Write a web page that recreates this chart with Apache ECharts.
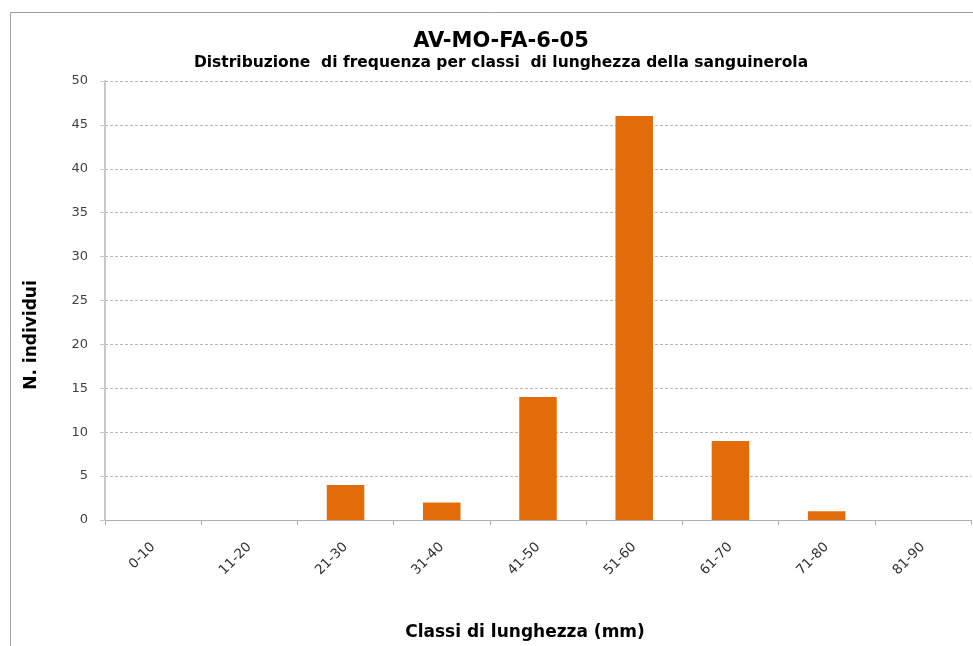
<!DOCTYPE html>
<html>
<head>
<meta charset="utf-8">
<script src="https://cdn.jsdelivr.net/npm/echarts@6/dist/echarts.min.js"></script>
<style>
  html, body { margin: 0; padding: 0; background: #fff; }
  #main { width: 973px; height: 646px; }
</style>
</head>
<body>
<div id="main"></div>
<script>
// classi di lunghezza e numero di individui
var classi = ["0-10", "11-20", "21-30", "31-40", "41-50", "51-60", "61-70", "71-80", "81-90"];
var individui = [0, 0, 4, 2, 14, 46, 9, 1, 0];
var yTicks = { min: 0, max: 50, interval: 5 };

var font = "Verdana, 'DejaVu Sans', sans-serif";
var chart = echarts.init(document.getElementById("main"));

var option = {
  backgroundColor: "#fff",
  animation: false,
  graphic: [
    {
      type: "rect",
      shape: { x: 10.5, y: 12.5, width: 1000, height: 700 },
      style: { fill: "none", stroke: "#a0a0a0", lineWidth: 1 }
    },
    {
      // titolo asse y
      type: "text",
      x: 32,
      y: 335,
      rotation: Math.PI / 2,
      style: {
        text: "N. individui",
        fontFamily: font,
        fontSize: 17,
        fontWeight: "bold",
        fill: "#000",
        textAlign: "center",
        textVerticalAlign: "middle"
      }
    }
  ],
  title: {
    text: "AV-MO-FA-6-05",
    subtext: "Distribuzione  di frequenza per classi  di lunghezza della sanguinerola",
    left: 496,
    textAlign: "center",
    top: 26,
    itemGap: 3,
    textStyle: { fontFamily: font, fontSize: 21, fontWeight: "bold", color: "#000" },
    subtextStyle: { fontFamily: font, fontSize: 15.5, fontWeight: "bold", color: "#000" }
  },
  grid: { left: 105, right: 2, top: 81, bottom: 121, containLabel: false },
  xAxis: {
    type: "category",
    data: classi,
    name: "Classi di lunghezza (mm)",
    nameLocation: "middle",
    nameGap: 104,
    nameTextStyle: {
      fontFamily: font, fontSize: 17, fontWeight: "bold", color: "#000",
      padding: [0, 26, 0, 0]
    },
    axisLine: { lineStyle: { color: "#b0b0b0", width: 1 } },
    axisTick: { show: true, alignWithLabel: false, length: 5, lineStyle: { color: "#b0b0b0" } },
    axisLabel: {
      rotate: 45,
      margin: 25,
      fontFamily: font,
      fontSize: 13.5,
      color: "#303030",
      interval: 0
    },
    splitLine: { show: false }
  },
  yAxis: {
    type: "value",
    min: yTicks.min,
    max: yTicks.max,
    interval: yTicks.interval,
    axisLine: { show: true, lineStyle: { color: "#c8c8c8", width: 2 } },
    axisTick: { show: true, length: 5, inside: false, lineStyle: { color: "#c8c8c8" } },
    axisLabel: { fontFamily: font, fontSize: 13, color: "#404040", margin: 17 },
    splitLine: { show: true, lineStyle: { color: "#b8b8b8", type: [3, 2], width: 1 } }
  },
  series: [
    {
      name: "N. individui",
      type: "bar",
      data: individui,
      barWidth: "39%",
      itemStyle: { color: "#e36c0a" }
    }
  ]
};

chart.setOption(option);
</script>
</body>
</html>
